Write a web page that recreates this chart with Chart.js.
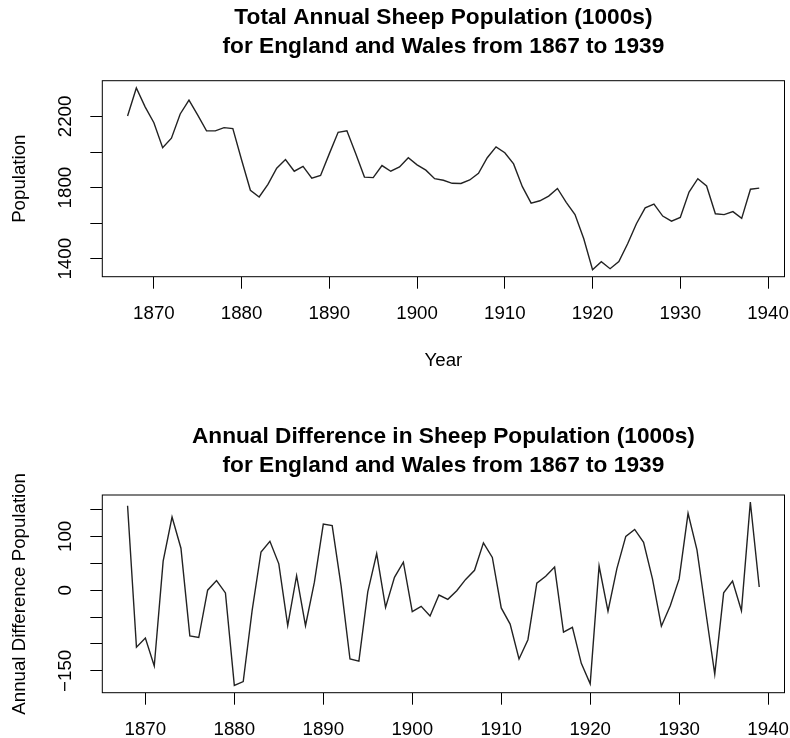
<!DOCTYPE html>
<html>
<head>
<meta charset="utf-8">
<script src="https://cdn.jsdelivr.net/npm/chart.js@4.4.0/dist/chart.umd.min.js"></script>
<style>
  body { margin: 0; background: #fff; }
  canvas { position: absolute; left: 0; }
  #sheep-chart { top: 0; }
  #diff-chart { top: 395px; }
</style>
</head>
<body>
<canvas id="sheep-chart" width="790" height="395"></canvas>
<canvas id="diff-chart" width="790" height="343"></canvas>
<script>
// data
const years = [1867, 1868, 1869, 1870, 1871, 1872, 1873, 1874, 1875, 1876, 1877, 1878, 1879,
  1880, 1881, 1882, 1883, 1884, 1885, 1886, 1887, 1888, 1889, 1890, 1891, 1892, 1893, 1894,
  1895, 1896, 1897, 1898, 1899, 1900, 1901, 1902, 1903, 1904, 1905, 1906, 1907, 1908, 1909,
  1910, 1911, 1912, 1913, 1914, 1915, 1916, 1917, 1918, 1919, 1920, 1921, 1922, 1923, 1924,
  1925, 1926, 1927, 1928, 1929, 1930, 1931, 1932, 1933, 1934, 1935, 1936, 1937, 1938, 1939];

const sheep = [2203, 2360, 2254, 2165, 2024, 2078, 2214, 2292, 2207, 2119, 2119, 2137, 2132,
  1955, 1785, 1747, 1818, 1909, 1958, 1892, 1919, 1853, 1868, 1991, 2111, 2119, 1991, 1859,
  1856, 1924, 1892, 1916, 1968, 1928, 1898, 1850, 1841, 1824, 1823, 1843, 1880, 1968, 2029,
  1996, 1933, 1805, 1713, 1726, 1752, 1795, 1717, 1648, 1512, 1338, 1383, 1344, 1384, 1484,
  1597, 1686, 1707, 1640, 1611, 1632, 1775, 1850, 1809, 1653, 1648, 1665, 1627, 1791, 1797];

// difference series starts one year later (1868)
const diffYears = years.slice(1);
const annualDiff = [157, -106, -89, -141, 54, 136, 78, -85, -88, 0, 18, -5,
  -177, -170, -38, 71, 91, 49, -66, 27, -66, 15, 123, 120, 8, -128, -132,
  -3, 68, -32, 24, 52, -40, -30, -48, -9, -17, -1, 20, 37, 88, 61,
  -33, -63, -128, -92, 13, 26, 43, -78, -69, -136, -174, 45, -39, 40, 100,
  113, 89, 21, -67, -29, 21, 143, 75, -41, -156, -5, 17, -38, 164, 6];

const xTicks = [1870, 1880, 1890, 1900, 1910, 1920, 1930, 1940];
const sheepTicks = [1400, 1600, 1800, 2000, 2200];
const sheepTickLabels = ['1400', '', '1800', '', '2200'];
const diffTicks = [-150, -100, -50, 0, 50, 100, 150];
const diffTickLabels = ['\u2212150', '', '', '0', '', '100', ''];

const sheepTitle = ['Total Annual Sheep Population (1000s)', 'for England and Wales from 1867 to 1939'];
const diffTitle = ['Annual Difference in Sheep Population (1000s)', 'for England and Wales from 1867 to 1939'];

const FONT = "'Liberation Sans', Arial, Helvetica, sans-serif";
const AXIS_SIZE = 18.7;
const TITLE_SIZE = 22.7;

Chart.defaults.font.family = FONT;
Chart.defaults.color = '#000';

// box, main title and rotated y labels, R style
function rStylePlugin(titleLines, titleY, yTicks, yLabels) {
  return {
    id: 'rStyle',
    afterDraw(chart) {
      const { ctx, chartArea: a } = chart;
      const yScale = chart.scales.y;
      ctx.save();
      ctx.strokeStyle = '#000';
      ctx.lineWidth = 1;
      ctx.strokeRect(a.left, a.top, a.right - a.left, a.bottom - a.top);

      ctx.fillStyle = '#000';
      ctx.textAlign = 'center';
      ctx.textBaseline = 'middle';
      ctx.font = `bold ${TITLE_SIZE}px ${FONT}`;
      const cx = (a.left + a.right) / 2;
      titleLines.forEach((line, i) => ctx.fillText(line, cx, titleY[i]));

      ctx.font = `${AXIS_SIZE}px ${FONT}`;
      yTicks.forEach((v, i) => {
        if (!yLabels[i]) return;
        ctx.save();
        ctx.translate(66, yScale.getPixelForValue(v));
        ctx.rotate(-Math.PI / 2);
        ctx.fillText(yLabels[i], 0, 0);
        ctx.restore();
      });
      ctx.restore();
    }
  };
}

function makeChart(canvasId, cfg) {
  return new Chart(document.getElementById(canvasId), {
    type: 'line',
    data: {
      datasets: [{
        data: cfg.xs.map((x, i) => ({ x: x, y: cfg.ys[i] })),
        borderColor: '#222',
        borderWidth: 1.4,
        pointRadius: 0,
        tension: 0,
        fill: false
      }]
    },
    options: {
      responsive: false,
      animation: false,
      devicePixelRatio: 1,
      layout: { padding: { left: 0, right: 5.5, top: cfg.top, bottom: 0 } },
      plugins: { legend: { display: false }, tooltip: { enabled: false }, title: { display: false } },
      scales: {
        x: {
          type: 'linear',
          min: cfg.xMin,
          max: cfg.xMax,
          afterBuildTicks: s => { s.ticks = xTicks.map(v => ({ value: v })); },
          afterFit: s => { s.height = cfg.xHeight; s.paddingLeft = 0; s.paddingRight = 0; },
          ticks: {
            autoSkip: false, maxRotation: 0, minRotation: 0, padding: 14,
            font: { size: AXIS_SIZE }, color: '#000',
            callback: v => String(v)
          },
          grid: { drawOnChartArea: false, drawTicks: true, tickLength: 12, color: '#000', lineWidth: 1 },
          border: { display: false },
          title: {
            display: !!cfg.xTitle, text: cfg.xTitle || '',
            font: { size: AXIS_SIZE }, color: '#000', padding: { top: 0, bottom: 22.5 }
          }
        },
        y: {
          type: 'linear',
          min: cfg.yMin,
          max: cfg.yMax,
          afterBuildTicks: s => { s.ticks = cfg.yTicks.map(v => ({ value: v })); },
          afterFit: s => { s.width = 102.3; s.paddingTop = 0; s.paddingBottom = 0; },
          ticks: { display: false },
          grid: { drawOnChartArea: false, drawTicks: true, tickLength: 12, color: '#000', lineWidth: 1 },
          border: { display: false },
          title: {
            display: true, text: cfg.yTitle,
            font: { size: AXIS_SIZE }, color: '#000', padding: { top: 8.5, bottom: 0 }
          }
        }
      }
    },
    plugins: [rStylePlugin(cfg.title, cfg.titleY, cfg.yTicks, cfg.yLabels)]
  });
}

makeChart('sheep-chart', {
  xs: years, ys: sheep,
  xMin: 1864.12, xMax: 1941.88,
  yMin: 1299, yMax: 2401,
  top: 80.7, xHeight: 118.3,
  yTicks: sheepTicks, yLabels: sheepTickLabels,
  xTitle: 'Year', yTitle: 'Population',
  title: sheepTitle, titleY: [18, 47]
});

makeChart('diff-chart', {
  xs: diffYears, ys: annualDiff,
  xMin: 1865.16, xMax: 1941.84,
  yMin: -190.6, yMax: 177,
  top: 100, xHeight: 45.3,
  yTicks: diffTicks, yLabels: diffTickLabels,
  xTitle: '', yTitle: 'Annual Difference Population',
  title: diffTitle, titleY: [42, 71]
});
</script>
</body>
</html>
